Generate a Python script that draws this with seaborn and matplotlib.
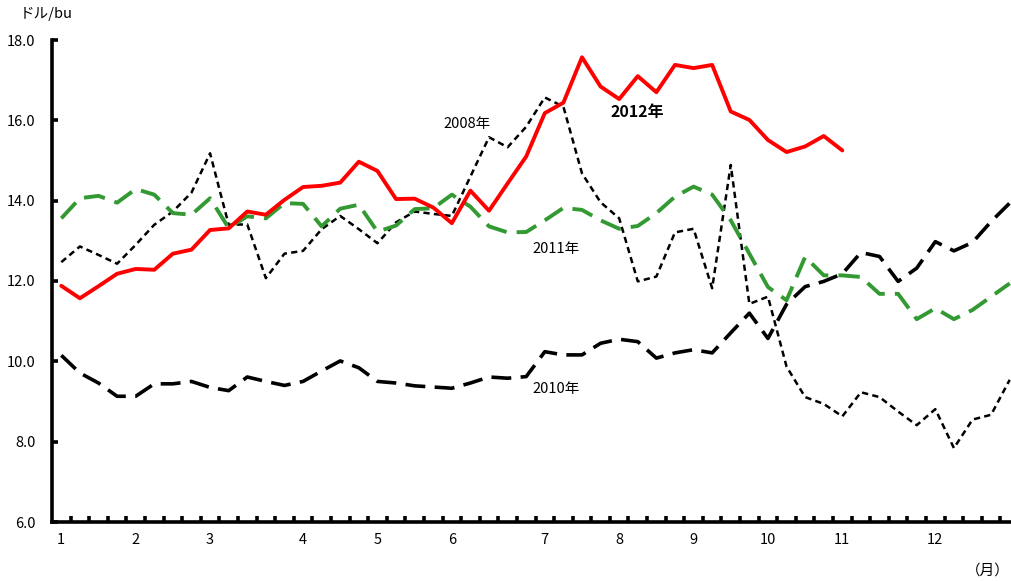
import numpy as np
import pandas as pd
import matplotlib
matplotlib.use("Agg")
import matplotlib.pyplot as plt
from matplotlib.ticker import FixedLocator, FixedFormatter
import seaborn as sns

# weekly prices (ドル/bu), one value per week
y2008 = [12.47, 12.86, 12.65, 12.43, 12.90, 13.40, 13.73, 14.20, 15.18, 13.40,
         13.41, 12.07, 12.68, 12.75, 13.29, 13.62, 13.29, 12.94, 13.46, 13.73,
         13.67, 13.62, 14.60, 15.58, 15.33, 15.84, 16.57, 16.34, 14.68, 13.96,
         13.56, 11.99, 12.11, 13.21, 13.30, 11.82, 14.89, 11.43, 11.61, 9.87,
         9.11, 8.94, 8.63, 9.23, 9.11, 8.75, 8.41, 8.81, 7.84, 8.55,
         8.67, 9.54]
y2010 = [10.15, 9.71, 9.46, 9.13, 9.13, 9.44, 9.44, 9.50, 9.35, 9.27,
         9.61, 9.50, 9.40, 9.50, 9.76, 10.01, 9.84, 9.50, 9.46, 9.39,
         9.36, 9.33, 9.46, 9.61, 9.58, 9.62, 10.24, 10.16, 10.16, 10.45,
         10.55, 10.49, 10.08, 10.21, 10.29, 10.21, 10.71, 11.20, 10.57, 11.42,
         11.86, 11.99, 12.18, 12.71, 12.61, 11.99, 12.32, 12.98, 12.75, 12.96,
         13.48, 13.94]
y2011 = [13.56, 14.06, 14.12, 13.95, 14.29, 14.15, 13.69, 13.65, 14.06, 13.32,
         13.61, 13.56, 13.94, 13.92, 13.36, 13.80, 13.90, 13.23, 13.38, 13.79,
         13.81, 14.15, 13.85, 13.36, 13.21, 13.22, 13.51, 13.82, 13.77, 13.51,
         13.30, 13.37, 13.69, 14.10, 14.35, 14.15, 13.51, 12.68, 11.85, 11.52,
         12.60, 12.14, 12.14, 12.10, 11.68, 11.68, 11.05, 11.32, 11.05, 11.28,
         11.61, 11.94]
y2012 = [11.88, 11.57, 11.87, 12.18, 12.30, 12.28, 12.68, 12.78, 13.27, 13.31,
         13.73, 13.65, 14.02, 14.34, 14.37, 14.45, 14.97, 14.74, 14.04, 14.05,
         13.83, 13.44, 14.25, 13.75, 14.43, 15.10, 16.18, 16.44, 17.57, 16.84,
         16.53, 17.10, 16.70, 17.38, 17.30, 17.38, 16.22, 16.01, 15.51, 15.21,
         15.35, 15.61, 15.25]

month_labels = ["1", "2", "3", "4", "5", "6", "7", "8", "9", "10", "11", "12"]
month_weeks = [0, 4, 8, 13, 17, 21, 26, 30, 34, 38, 42, 47]

sns.set_style("white", rc={"text.color": "black", "xtick.color": "black",
                           "ytick.color": "black", "axes.labelcolor": "black"})
plt.rcParams["font.family"] = ["Noto Sans CJK JP", "DejaVu Sans"]

fig = plt.figure(figsize=(10.12, 5.81), dpi=100)
ax = fig.add_axes([52 / 1012, 59 / 581, 967 / 1012, 482 / 581])

sns.lineplot(x=np.arange(len(y2010)), y=y2010, ax=ax, color="black",
             linewidth=2.6, linestyle=(0, (5.5, 2.6)))
sns.lineplot(x=np.arange(len(y2008)), y=y2008, ax=ax, color="black",
             linewidth=1.8, linestyle=(0, (2.5, 1.7)))
sns.lineplot(x=np.arange(len(y2011)), y=y2011, ax=ax, color="#339933",
             linewidth=2.8, linestyle=(0, (5.5, 2.6)))
sns.lineplot(x=np.arange(len(y2012)), y=y2012, ax=ax, color="#ff0000",
             linewidth=2.8)

ax.set_xlim(-0.5, 51.5)
ax.set_ylim(6, 18)
ax.set_xlabel("")
ax.set_ylabel("")

for s in ["top", "right"]:
    ax.spines[s].set_visible(False)
for s in ["left", "bottom"]:
    ax.spines[s].set_linewidth(2.6)
    ax.spines[s].set_color("black")

ax.set_yticks(np.arange(6, 18.1, 2))
ax.set_yticklabels([f"{v:.1f}" for v in np.arange(6, 18.1, 2)])
ax.tick_params(axis="y", left=True, direction="in", length=4, width=2.6,
               labelsize=10.5, pad=12, colors="black")

ax.xaxis.set_major_locator(FixedLocator(month_weeks))
ax.xaxis.set_major_formatter(FixedFormatter(month_labels))
ax.xaxis.set_minor_locator(FixedLocator(np.arange(0.5, 51, 1)))
ax.tick_params(axis="x", which="major", bottom=True, length=0,
               labelsize=10.5, pad=8, colors="black")
ax.tick_params(axis="x", which="minor", bottom=True, direction="in",
               length=4, width=2.6, colors="black")

ax.text(21.8, 15.9, "2008年", fontsize=10.5, ha="center", va="center",
        color="black")
ax.text(31.0, 16.2, "2012年", fontsize=11.5, fontweight="bold",
        ha="center", va="center", color="black")
ax.text(26.6, 12.8, "2011年", fontsize=10.5, ha="center", va="center",
        color="black")
ax.text(26.6, 9.3, "2010年", fontsize=10.5, ha="center", va="center",
        color="black")

fig.text(20 / 1012, 1 - 14 / 581, "ドル/bu", fontsize=10.5, ha="left",
         va="center", color="black")
fig.text(988 / 1012, 1 - 571 / 581, "（月）", fontsize=10.5, ha="center",
         va="center", color="black")

fig.savefig("out.png", dpi=100, facecolor="white")
